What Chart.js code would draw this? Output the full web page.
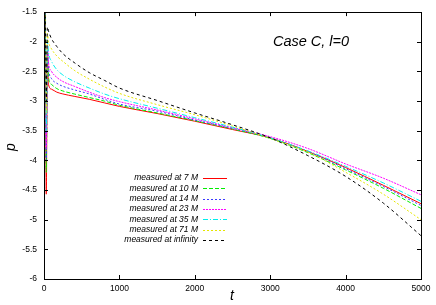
<!DOCTYPE html>
<html>
<head>
<meta charset="utf-8">
<script src="https://cdn.jsdelivr.net/npm/chart.js@4"></script>
<style>
  html, body { margin: 0; padding: 0; background: #fff; }
  canvas { display: block; }
</style>
</head>
<body>
<canvas id="grafico" width="436" height="305"></canvas>
<script>
// tiempos (t) y valores de p
const tiempos = [0, 15, 30, 45, 60, 100, 170, 250, 400, 600, 800, 1000, 1500, 2000, 2500, 3000, 3500, 4000, 4500, 5000];

const p7M   = [-6.3, -1.5, -4.57, -2.25, -2.72, -2.8, -2.85, -2.88, -2.92, -2.97, -3.03, -3.09, -3.21, -3.34, -3.48, -3.62, -3.85, -4.12, -4.42, -4.73];
const p10M  = [-6.3, -1.5, -4.2, -2.15, -2.6, -2.72, -2.79, -2.83, -2.88, -2.94, -3.0, -3.07, -3.2, -3.33, -3.47, -3.63, -3.87, -4.16, -4.47, -4.81];
const p14M  = [-6.3, -1.5, -4.0, -2.1, -2.45, -2.62, -2.7, -2.75, -2.81, -2.88, -2.97, -3.05, -3.17, -3.32, -3.46, -3.62, -3.85, -4.14, -4.44, -4.76];
const p23M  = [-6.3, -1.5, -3.8, -2.05, -2.35, -2.5, -2.6, -2.67, -2.75, -2.85, -2.94, -3.01, -3.15, -3.3, -3.45, -3.6, -3.8, -4.06, -4.3, -4.58];
const p35M  = [-6.3, -1.5, -3.5, -1.97, -2.18, -2.33, -2.47, -2.56, -2.67, -2.78, -2.88, -2.96, -3.12, -3.28, -3.44, -3.62, -3.84, -4.1, -4.38, -4.69];
const p71M  = [-6.3, -1.5, -3.2, -1.86, -2.0, -2.12, -2.24, -2.33, -2.48, -2.63, -2.76, -2.87, -3.06, -3.23, -3.42, -3.63, -3.86, -4.2, -4.57, -5.0];
const pInf  = [-6.3, -1.5, -3.0, -1.75, -1.82, -1.95, -2.08, -2.2, -2.35, -2.52, -2.65, -2.78, -2.99, -3.2, -3.4, -3.62, -3.92, -4.27, -4.72, -5.27];

const etiquetas = ["measured at 7 M", "measured at 10 M", "measured at 14 M", "measured at 23 M", "measured at 35 M", "measured at 71 M", "measured at infinity"];
const ticksX = [0, 1000, 2000, 3000, 4000, 5000];
const ticksY = [-1.5, -2, -2.5, -3, -3.5, -4, -4.5, -5, -5.5, -6];

const series = [p7M, p10M, p14M, p23M, p35M, p71M, pInf];
const colores = ["#ff0000", "#00ee00", "#3a3aff", "#ff00ff", "#00eeee", "#e6e600", "#000000"];
const trazos = [[], [4, 2], [2, 2], [2, 1], [5, 2, 1, 2], [2, 2], [3, 3]];

const conjuntos = series.map((valores, i) => ({
  label: etiquetas[i],
  data: valores.map((v, j) => ({ x: tiempos[j], y: v })),
  borderColor: colores[i],
  borderDash: trazos[i],
  borderWidth: 1,
  pointRadius: 0,
  fill: false,
  cubicInterpolationMode: "monotone",
  clip: 0
})).reverse();

const fuente = "'Liberation Sans', Arial, sans-serif";

// marco, marcas interiores, leyenda y titulos
const marco = {
  id: "marco",
  afterDraw(chart) {
    const ctx = chart.ctx;
    const a = chart.chartArea;
    const sx = chart.scales.x;
    const sy = chart.scales.y;
    ctx.save();
    ctx.strokeStyle = "#000";
    ctx.lineWidth = 1;
    ctx.strokeRect(Math.round(a.left) + 0.5, Math.round(a.top) + 0.5, Math.round(a.right - a.left), Math.round(a.bottom - a.top));
    ctx.beginPath();
    ticksX.forEach(v => {
      const px = Math.round(sx.getPixelForValue(v)) + 0.5;
      ctx.moveTo(px, a.bottom); ctx.lineTo(px, a.bottom - 4);
      ctx.moveTo(px, a.top); ctx.lineTo(px, a.top + 4);
    });
    ticksY.forEach(v => {
      const py = Math.round(sy.getPixelForValue(v)) + 0.5;
      ctx.moveTo(a.left, py); ctx.lineTo(a.left + 4, py);
      ctx.moveTo(a.right, py); ctx.lineTo(a.right - 4, py);
    });
    ctx.stroke();

    // leyenda
    const ds = chart.data.datasets.slice().reverse();
    ctx.font = "italic 8.5px " + fuente;
    ctx.textAlign = "right";
    ctx.textBaseline = "middle";
    ds.forEach((d, i) => {
      const y = a.top + 166 + i * 10.3;
      ctx.fillStyle = "#000";
      ctx.fillText(d.label, a.left + 154, y);
      ctx.strokeStyle = d.borderColor;
      ctx.setLineDash(d.borderDash);
      ctx.beginPath();
      ctx.moveTo(a.left + 159, Math.round(y) + 0.5);
      ctx.lineTo(a.left + 183, Math.round(y) + 0.5);
      ctx.stroke();
    });
    ctx.setLineDash([]);

    // titulo y ejes
    ctx.fillStyle = "#000";
    ctx.textAlign = "center";
    ctx.font = "italic 14.5px " + fuente;
    ctx.fillText("Case C, l=0", 311, 42);
    ctx.font = "italic 14px " + fuente;
    ctx.fillText("t", 232, 296);
    ctx.translate(11, 147);
    ctx.rotate(-Math.PI / 2);
    ctx.fillText("p", 0, 0);
    ctx.restore();
  }
};

new Chart(document.getElementById("grafico"), {
  type: "line",
  data: { datasets: conjuntos },
  options: {
    responsive: false,
    animation: false,
    devicePixelRatio: 1,
    layout: { padding: { top: 10, right: 15, left: 0, bottom: 0 } },
    plugins: { legend: { display: false }, tooltip: { enabled: false } },
    scales: {
      x: {
        type: "linear",
        min: 0,
        max: 5000,
        afterBuildTicks: s => { s.ticks = ticksX.map(v => ({ value: v })); },
        afterFit: s => { s.height = 26; },
        grid: { display: false, drawTicks: false },
        border: { display: false },
        ticks: { font: { family: fuente, size: 8.5 }, color: "#000", padding: 5, maxRotation: 0, callback: v => String(v) }
      },
      y: {
        type: "linear",
        min: -6,
        max: -1.5,
        afterBuildTicks: s => { s.ticks = ticksY.map(v => ({ value: v })); },
        afterFit: s => { s.width = 44; },
        grid: { display: false, drawTicks: false },
        border: { display: false },
        ticks: { font: { family: fuente, size: 8.5 }, color: "#000", padding: 7, callback: v => String(v) }
      }
    }
  },
  plugins: [marco]
});
</script>
</body>
</html>
